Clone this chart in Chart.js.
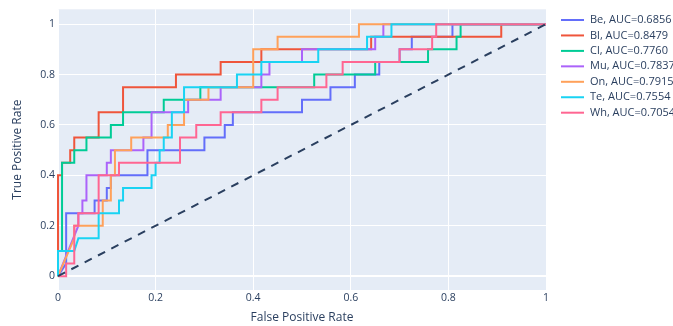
<!DOCTYPE html>
<html lang="en">
<head>
<meta charset="UTF-8" />
<title>ROC curves</title>
<script src="https://cdn.jsdelivr.net/npm/chart.js@4.4.1/dist/chart.umd.min.js"></script>
<style>
  body { margin:0; background:#ffffff; }
  #roc { display:block; }
</style>
</head>
<body>
<canvas id="roc" width="673" height="326"></canvas>
<script>
// class names and AUC shown in legend
const names = ['Be', 'Bl', 'Cl', 'Mu', 'On', 'Te', 'Wh'];
const aucs = ['0.6856', '0.8479', '0.7760', '0.7837', '0.7915', '0.7554', '0.7054'];
const colors = ['#636efa', '#EF553B', '#00cc96', '#ab63fa', '#FFA15A', '#19d3f3', '#FF6692'];

// ROC points (false positive rate / true positive rate)
const beFpr = [0,0.0167,0.0167,0.075,0.075,0.1,0.1,0.1083,0.1083,0.1833,0.1833,0.3,0.3,0.3417,0.3417,0.3583,0.3583,0.5,0.5,0.5583,0.5583,0.6083,0.6083,0.6583,0.6583,0.7,0.7,0.725,0.725,0.8083,0.8083,1];
const beTpr = [0,0.05,0.25,0.25,0.3,0.3,0.35,0.35,0.4,0.4,0.5,0.5,0.55,0.55,0.6,0.6,0.65,0.65,0.7,0.7,0.75,0.75,0.8,0.8,0.85,0.85,0.9,0.9,0.95,0.95,1,1];

const blFpr = [0,0,0.0083,0.0083,0.025,0.025,0.0333,0.0333,0.0833,0.0833,0.1333,0.1333,0.2417,0.2417,0.3333,0.3333,0.4167,0.4167,0.6417,0.6417,0.9083,0.9083,1];
const blTpr = [0,0.4,0.4,0.45,0.45,0.5,0.5,0.55,0.55,0.65,0.65,0.75,0.75,0.8,0.8,0.85,0.85,0.9,0.9,0.95,0.95,1,1];

const clFpr = [0,0,0.0083,0.0083,0.0333,0.0333,0.0583,0.0583,0.1083,0.1083,0.1333,0.1333,0.2167,0.2167,0.2917,0.2917,0.525,0.525,0.65,0.65,0.7583,0.7583,0.8167,0.8167,0.825,0.825,1];
const clTpr = [0,0.1,0.1,0.45,0.45,0.5,0.5,0.55,0.55,0.6,0.6,0.65,0.65,0.7,0.7,0.75,0.75,0.8,0.8,0.85,0.85,0.9,0.9,0.95,0.95,1,1];

const muFpr = [0,0.0417,0.0417,0.05,0.05,0.0583,0.0583,0.1,0.1,0.1083,0.1083,0.175,0.175,0.1917,0.1917,0.2667,0.2667,0.3333,0.3333,0.4167,0.4167,0.4333,0.4333,0.5,0.5,0.65,0.65,0.6667,0.6667,1];
const muTpr = [0,0.2,0.25,0.25,0.3,0.3,0.4,0.4,0.45,0.45,0.5,0.5,0.55,0.55,0.65,0.65,0.7,0.7,0.75,0.75,0.8,0.8,0.85,0.85,0.9,0.9,0.95,0.95,1,1];

const onFpr = [0,0.0333,0.0333,0.0917,0.0917,0.1083,0.1083,0.1167,0.1167,0.15,0.15,0.225,0.225,0.2583,0.2583,0.3083,0.3083,0.4,0.4,0.45,0.45,0.6167,0.6167,1];
const onTpr = [0,0.15,0.2,0.2,0.3,0.3,0.4,0.4,0.5,0.5,0.55,0.55,0.6,0.6,0.7,0.7,0.75,0.75,0.9,0.9,0.95,0.95,1,1];

const teFpr = [0,0,0.0333,0.0417,0.0833,0.0833,0.125,0.125,0.1333,0.1333,0.1917,0.1917,0.2,0.2,0.2083,0.2083,0.2167,0.2167,0.2333,0.2333,0.2583,0.2583,0.3667,0.3667,0.4167,0.4167,0.5333,0.5333,0.6333,0.6333,0.6833,0.6833,1];
const teTpr = [0,0.1,0.1,0.15,0.15,0.25,0.25,0.3,0.3,0.35,0.35,0.4,0.4,0.45,0.45,0.5,0.5,0.55,0.55,0.65,0.65,0.75,0.75,0.8,0.8,0.85,0.85,0.9,0.9,0.95,0.95,1,1];

const whFpr = [0,0.0167,0.0167,0.0333,0.0333,0.0417,0.0417,0.0833,0.0833,0.125,0.125,0.25,0.25,0.2833,0.2833,0.3333,0.3333,0.4167,0.4167,0.45,0.45,0.55,0.55,0.5833,0.5833,0.7,0.7,0.7667,0.7667,0.775,0.775,1];
const whTpr = [0,0,0.05,0.05,0.2,0.2,0.25,0.25,0.4,0.4,0.45,0.45,0.55,0.55,0.6,0.6,0.65,0.65,0.7,0.7,0.75,0.75,0.8,0.8,0.85,0.85,0.9,0.9,0.95,0.95,1,1];

// chance line
const diagX = [0, 1];
const diagY = [0, 1];

const xTicks = [0, 0.2, 0.4, 0.6, 0.8, 1];
const yTicks = [0, 0.2, 0.4, 0.6, 0.8, 1];

const fprList = [beFpr, blFpr, clFpr, muFpr, onFpr, teFpr, whFpr];
const tprList = [beTpr, blTpr, clTpr, muTpr, onTpr, teTpr, whTpr];

function toPoints(xs, ys) {
  return xs.map((x, i) => ({ x: x, y: ys[i] }));
}

const fontFamily = '"Open Sans", verdana, arial, sans-serif';
const textColor = '#2a3f5f';

let datasets = names.map((n, i) => ({
  label: n + ', AUC=' + aucs[i],
  data: toPoints(fprList[i], tprList[i]),
  borderColor: colors[i],
  borderWidth: 2,
  showLine: true,
  pointRadius: 0,
  tension: 0,
  fill: false,
  clip: 2,
  order: names.length - i
}));
datasets.push({
  label: 'chance',
  data: toPoints(diagX, diagY),
  borderColor: '#2a3f5f',
  borderWidth: 2,
  borderDash: [8, 7],
  showLine: true,
  pointRadius: 0,
  fill: false,
  clip: 2,
  order: 0
});

// plot background
const bgPlugin = {
  id: 'plotBg',
  beforeDraw(chart) {
    const a = chart.chartArea;
    const ctx = chart.ctx;
    ctx.save();
    ctx.fillStyle = '#E5ECF6';
    ctx.fillRect(a.left, a.top, a.right - a.left, a.bottom - a.top);
    ctx.restore();
  }
};

// legend on the right, plotly style
const legendPlugin = {
  id: 'sideLegend',
  afterDraw(chart) {
    const ctx = chart.ctx;
    ctx.save();
    ctx.font = '11px ' + fontFamily;
    ctx.textBaseline = 'middle';
    for (let i = 0; i < names.length; i++) {
      const y = 20 + i * 15.45;
      ctx.strokeStyle = colors[i];
      ctx.lineWidth = 2;
      ctx.beginPath();
      ctx.moveTo(561, y);
      ctx.lineTo(584, y);
      ctx.stroke();
      ctx.fillStyle = textColor;
      ctx.fillText(names[i] + ', AUC=' + aucs[i], 590, y);
    }
    ctx.restore();
  }
};

const gridWidth = (c) => (c.tick && c.tick.value === 0 ? 2 : 1);

const rocChart = new Chart(document.getElementById('roc'), {
  type: 'scatter',
  data: { datasets: datasets },
  options: {
    responsive: false,
    animation: false,
    layout: { padding: { top: 7, right: 127, left: 0, bottom: 0 } },
    plugins: {
      legend: { display: false },
      tooltip: { enabled: false }
    },
    scales: {
      x: {
        type: 'linear',
        min: 0,
        max: 1,
        afterBuildTicks: (s) => { s.ticks = xTicks.map(v => ({ value: v })); },
        afterFit: (s) => { s.height = 36; },
        ticks: {
          color: textColor,
          font: { family: fontFamily, size: 10.5 },
          padding: 2,
          maxRotation: 0,
          callback: (v) => String(v)
        },
        grid: { color: '#ffffff', lineWidth: gridWidth, drawTicks: false },
        border: { display: false },
        title: {
          display: true,
          text: 'False Positive Rate',
          color: textColor,
          font: { family: fontFamily, size: 12 },
          padding: { top: 0, bottom: 1 }
        }
      },
      y: {
        type: 'linear',
        min: -0.055,
        max: 1.059,
        afterBuildTicks: (s) => { s.ticks = yTicks.map(v => ({ value: v })); },
        afterFit: (s) => { s.width = 58; },
        ticks: {
          color: textColor,
          font: { family: fontFamily, size: 10.5 },
          padding: 3,
          callback: (v) => String(v)
        },
        grid: { color: '#ffffff', lineWidth: gridWidth, drawTicks: false },
        border: { display: false },
        title: {
          display: true,
          text: 'True Positive Rate',
          color: textColor,
          font: { family: fontFamily, size: 12 },
          padding: { top: 10, bottom: 0 }
        }
      }
    }
  },
  plugins: [bgPlugin, legendPlugin]
});
</script>
</body>
</html>
